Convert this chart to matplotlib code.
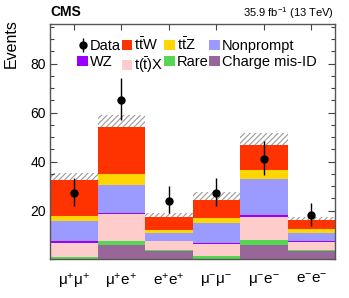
import numpy as np
import matplotlib
matplotlib.use('Agg')
import matplotlib.pyplot as plt
from matplotlib.ticker import MultipleLocator
from matplotlib.patches import Patch

plt.rcParams['font.family'] = ['Liberation Sans', 'DejaVu Sans']
plt.rcParams['mathtext.fontset'] = 'custom'
plt.rcParams['mathtext.rm'] = 'Liberation Sans'
plt.rcParams['mathtext.it'] = 'Liberation Sans:italic'
plt.rcParams['mathtext.bf'] = 'Liberation Sans:bold'
plt.rcParams['hatch.color'] = '#9a9a9a'
plt.rcParams['hatch.linewidth'] = 0.8

# channels
categories = [r'$\mathrm{\mu^{+}\mu^{+}}$', r'$\mathrm{\mu^{+}e^{+}}$', r'$\mathrm{e^{+}e^{+}}$',
              r'$\mathrm{\mu^{-}\mu^{-}}$', r'$\mathrm{\mu^{-}e^{-}}$', r'$\mathrm{e^{-}e^{-}}$']

# stacked backgrounds, bottom to top
charge_misid = [0.0, 5.9, 3.6, 0.0, 5.8, 3.6]
rare = [1.1, 1.8, 0.2, 1.5, 2.1, 0.2]
ttx = [5.7, 10.7, 3.7, 4.8, 9.3, 3.5]
wz = [0.7, 0.6, 0.2, 0.5, 0.8, 0.2]
nonprompt = [8.2, 11.6, 3.0, 8.2, 14.7, 3.5]
ttz = [2.1, 4.2, 1.4, 2.0, 3.7, 1.5]
ttw = [14.6, 19.3, 5.1, 7.5, 10.3, 3.5]
bkg_unc = [3.0, 4.8, 1.8, 3.0, 4.9, 1.5]

data = [27, 65, 24, 27, 41, 18]
data_up = [6.3, 9.0, 5.9, 6.3, 7.5, 5.2]
data_dn = [5.0, 8.0, 4.9, 5.3, 6.3, 4.2]

stack = [
    (charge_misid, '#996699', 'Charge mis-ID'),
    (rare, '#55d655', 'Rare'),
    (ttx, '#ffcccc', r't($\mathrm{\bar{t}}$)X'),
    (wz, '#9900ff', 'WZ'),
    (nonprompt, '#9a9aff', 'Nonprompt'),
    (ttz, '#ffd700', r't$\mathrm{\bar{t}}$Z'),
    (ttw, '#ff3300', r't$\mathrm{\bar{t}}$W'),
]

fig = plt.figure(figsize=(3.49, 2.98), dpi=100)
ax = fig.add_axes([0.1433, 0.1292, 0.8167, 0.7886])

x = np.arange(len(categories))
bottom = np.zeros(len(categories))
handles = {}
for vals, col, lab in stack:
    vals = np.array(vals)
    ax.bar(x, vals, width=1.0, bottom=bottom, color=col, linewidth=0, zorder=2)
    handles[lab] = Patch(facecolor=col, edgecolor='none', label=lab)
    bottom = bottom + vals

total = bottom
ax.bar(x, np.array(bkg_unc), width=1.0, bottom=total, color='none', hatch='//////',
       linewidth=0, zorder=1)

eb = ax.errorbar(x, data, yerr=[data_dn, data_up], fmt='o', color='black', markersize=5,
                 elinewidth=1.0, capsize=0, zorder=4, label='Data')

order = ['Data', r't$\mathrm{\bar{t}}$W', r't$\mathrm{\bar{t}}$Z', 'Nonprompt',
         'WZ', r't($\mathrm{\bar{t}}$)X', 'Rare', 'Charge mis-ID']
hl = [eb if k == 'Data' else handles[k] for k in order]
# ncol fills column-wise, so reorder for row-wise look
hl_cols = [hl[0], hl[4], hl[1], hl[5], hl[2], hl[6], hl[3], hl[7]]
lab_cols = [order[0], order[4], order[1], order[5], order[2], order[6], order[3], order[7]]
ax.legend(hl_cols, lab_cols, ncol=4, loc='upper left', bbox_to_anchor=(0.095, 0.95),
          frameon=False, fontsize=10.5, handlelength=0.75, handleheight=0.75,
          handletextpad=0.12, columnspacing=0.05, labelspacing=0.15, borderpad=0,
          borderaxespad=0)

ax.set_xlim(-0.5, 5.5)
ax.set_ylim(0, 96)
ax.set_xticks(x)
ax.set_xticklabels(categories, fontsize=11)
ax.yaxis.set_minor_locator(MultipleLocator(5))
ax.set_yticks([20, 40, 60, 80])
ax.tick_params(axis='y', which='major', direction='in', length=5, width=0.8,
               left=True, right=True, labelsize=10, pad=3, color='#444444')
ax.tick_params(axis='y', which='minor', direction='in', length=3, width=0.8,
               left=True, right=True, color='#444444')
ax.tick_params(axis='x', which='major', direction='in', length=4, width=0.8,
               top=True, bottom=True, pad=9, color='#444444')
for s in ax.spines.values():
    s.set_color('#555555')
    s.set_linewidth(1.0)
    s.set_zorder(5)

fig.text(11 / 349, 1 - 44 / 298, 'Events', rotation=90, ha='center', va='center', fontsize=11.5)
fig.text(50 / 349, 1 - 12 / 298, 'CMS', ha='left', va='center', fontsize=10, fontweight='bold')
fig.text(334 / 349, 1 - 13 / 298, r'35.9 fb$^{\mathregular{-1}}$ (13 TeV)', ha='right',
         va='center', fontsize=8)

fig.savefig('out.png', dpi=100)
